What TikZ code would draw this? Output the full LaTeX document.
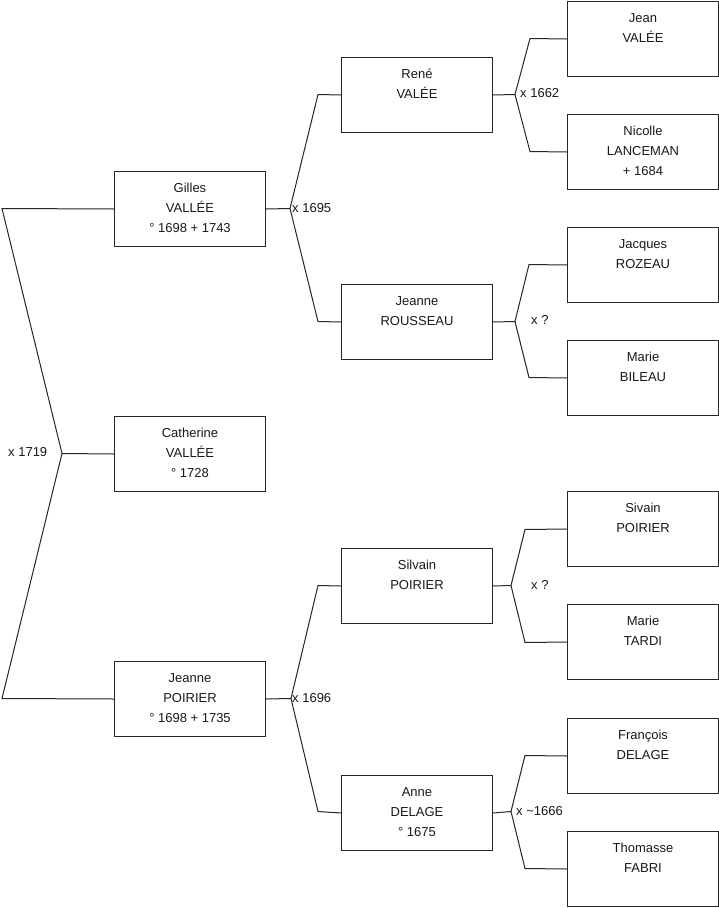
\documentclass[tikz,border=0pt]{standalone}
\usepackage{fontspec}
\setmainfont{Liberation Sans}
\newcommand\perstext[1]{\parbox[c][75pt][t]{151pt}{\centering\fontsize{13}{20}\selectfont\rule{0pt}{20.5pt}#1}}
\begin{document}
\begin{tikzpicture}[x=1pt,y=-1pt,
  person/.style={draw=black!85, line width=1pt, rectangle, inner sep=0pt, anchor=north west, text=black!90},
  link/.style={draw=black!85, line width=1pt},
  mlabel/.style={anchor=west, inner sep=0pt, font=\fontsize{13}{15}\selectfont, text=black!90}]
\fill[white] (0,0) rectangle (719,908);
\useasboundingbox (0,0) rectangle (719,908);
% generation 1
\node[person] (gilles) at (114,171) {\perstext{Gilles\\VALLÉE\\° 1698 + 1743}};
\node[person] (cath) at (114,416) {\perstext{Catherine\\VALLÉE\\° 1728}};
\node[person] (jeanneP) at (114,661) {\perstext{Jeanne\\POIRIER\\° 1698 + 1735}};
% generation 2
\node[person] (rene) at (341,57) {\perstext{René\\VALÉE}};
\node[person] (jeanneR) at (341,284) {\perstext{Jeanne\\ROUSSEAU}};
\node[person] (silvain) at (341,548) {\perstext{Silvain\\POIRIER}};
\node[person] (anne) at (341,775) {\perstext{Anne\\DELAGE\\° 1675}};
% generation 3
\node[person] (jean) at (567,1) {\perstext{Jean\\VALÉE}};
\node[person] (nicolle) at (567,114) {\perstext{Nicolle\\LANCEMAN\\+ 1684}};
\node[person] (jacques) at (567,227) {\perstext{Jacques\\ROZEAU}};
\node[person] (marieB) at (567,340) {\perstext{Marie\\BILEAU}};
\node[person] (sivain) at (567,491) {\perstext{Sivain\\POIRIER}};
\node[person] (marieT) at (567,604) {\perstext{Marie\\TARDI}};
\node[person] (francois) at (567,718) {\perstext{François\\DELAGE}};
\node[person] (thomasse) at (567,831) {\perstext{Thomasse\\FABRI}};
% bracket coordinates
\coordinate (a1) at (2,208.5);
\coordinate (v1) at (62,453.5);
\coordinate (a2) at (2,698.5);
\coordinate (v2) at (290,208.5);
\coordinate (b1) at (318,94.5);
\coordinate (b2) at (318,321.5);
\coordinate (v3) at (291,698.5);
\coordinate (b3) at (318,585.5);
\coordinate (b4) at (318,811.5);
\coordinate (v4) at (515,94.5);
\coordinate (c1) at (530,38.5);
\coordinate (c2) at (530,151.5);
\coordinate (v5) at (515,321.5);
\coordinate (c3) at (529,264.5);
\coordinate (c4) at (529,377.5);
\coordinate (v6) at (511,585.5);
\coordinate (c5) at (525,529.5);
\coordinate (c6) at (525,642.5);
\coordinate (v7) at (511,811.5);
\coordinate (c7) at (525,755.5);
\coordinate (c8) at (525,868.5);
% connectors
\draw[link] (gilles.west) -- (a1) -- (v1) -- (a2) -- (jeanneP.west);
\draw[link] (v1) -- (cath.west);
\draw[link] (rene.west) -- (b1) -- (v2) -- (b2) -- (jeanneR.west);
\draw[link] (gilles.east) -- (v2);
\draw[link] (silvain.west) -- (b3) -- (v3) -- (b4) -- (anne.west);
\draw[link] (jeanneP.east) -- (v3);
\draw[link] (jean.west) -- (c1) -- (v4) -- (c2) -- (nicolle.west);
\draw[link] (rene.east) -- (v4);
\draw[link] (jacques.west) -- (c3) -- (v5) -- (c4) -- (marieB.west);
\draw[link] (jeanneR.east) -- (v5);
\draw[link] (sivain.west) -- (c5) -- (v6) -- (c6) -- (marieT.west);
\draw[link] (silvain.east) -- (v6);
\draw[link] (francois.west) -- (c7) -- (v7) -- (c8) -- (thomasse.west);
\draw[link] (anne.east) -- (v7);
% marriage labels
\node[mlabel] (m1) at (8,452) {x 1719};
\node[mlabel] (m2) at (292,208) {x 1695};
\node[mlabel] (m3) at (292,698) {x 1696};
\node[mlabel] (m4) at (520,93) {x 1662};
\node[mlabel] (m5) at (531,320) {x ?};
\node[mlabel] (m6) at (531,585) {x ?};
\node[mlabel] (m7) at (516,811) {x \textasciitilde 1666};
\end{tikzpicture}
\end{document}
